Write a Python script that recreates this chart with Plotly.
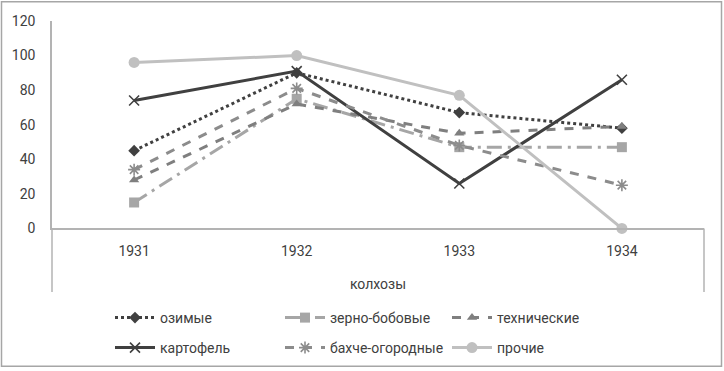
import plotly.graph_objects as go

years = ["1931", "1932", "1933", "1934"]
ozimye = [45, 90, 67, 58]
zerno = [15, 75, 47, 47]
tekhn = [28, 72, 55, 59]
kartofel = [74, 91, 26, 86]
bakhche = [34, 81, 48, 25]
prochie = [96, 100, 77, 0]
y_ticks = [0, 20, 40, 60, 80, 100, 120]

W, H = 724, 371
L, R, T, B = 52, 704, 21, 230
pw, ph = R - L, B - T


def px(x):
    return (x - L) / pw


def py(y):
    return (B - y) / ph


def cx(x):
    return x / W


def cy(y):
    return 1 - y / H


FONT = "Roboto"
TXT = "#404040"
fig = go.Figure()

# name, values, colour, dash, symbol, size, legend id, legend text position (px)
series = [
    ("озимые", ozimye, "#404040", "dot", "diamond", 9, "legend", (160, 318)),
    ("зерно-бобовые", zerno, "#a6a6a6", "longdashdot", "square", 10, "legend2", (330, 318)),
    ("технические", tekhn, "#7f7f7f", "dash", "triangle-up", 9, "legend3", (497, 318)),
    ("картофель", kartofel, "#404040", "solid", "x-thin", 10, "legend4", (160, 348)),
    ("бахче-огородные", bakhche, "#8c8c8c", "dash", "asterisk", 10, "legend5", (330, 348)),
    ("прочие", prochie, "#c0c0c0", "solid", "circle", 11, "legend6", (497, 348)),
]

legends = {}
for name, vals, col, dash, sym, size, leg, (tx, ty) in series:
    marker = dict(symbol=sym, size=size, color=col)
    if sym in ("x-thin", "asterisk"):
        marker["line"] = dict(color=col, width=1.6)
    fig.add_trace(go.Scatter(
        x=list(range(len(years))), y=vals, name=name, mode="lines+markers",
        line=dict(color=col, width=3, dash=dash), marker=marker,
        cliponaxis=False, legend=leg,
    ))
    legends[leg] = dict(
        orientation="h", xref="container", yref="container",
        x=cx(tx - 50), y=cy(ty), xanchor="left", yanchor="middle",
        font=dict(family=FONT, size=14, color=TXT),
        bgcolor="rgba(0,0,0,0)", itemwidth=40,
    )

fig.update_layout(
    width=W, height=H,
    margin=dict(l=L, r=W - R, t=T, b=H - B),
    paper_bgcolor="white", plot_bgcolor="white",
    font=dict(family=FONT, size=14, color=TXT),
    xaxis=dict(
        range=[-0.505, 3.505], tickvals=list(range(len(years))), ticktext=years,
        showgrid=False, zeroline=False, showline=True, linecolor="#b3b3b3", linewidth=2,
        ticks="", ticklabelstandoff=9,
        title=dict(text="колхозы", standoff=21, font=dict(size=14, color=TXT)),
        tickfont=dict(size=14, color=TXT),
    ),
    yaxis=dict(
        range=[0, 120], tickvals=y_ticks, showgrid=False, zeroline=False,
        showline=True, linecolor="#b3b3b3", linewidth=1.5,
        ticks="outside", ticklen=12, tickcolor="rgba(0,0,0,0)",
        tickfont=dict(size=14, color=TXT),
    ),
    showlegend=True,
    **legends,
)

# frame lines of the chart area below the axis
fig.add_shape(type="line", xref="paper", yref="paper", x0=0, x1=0, y0=py(230), y1=py(294),
              line=dict(color="#b3b3b3", width=1.5))
fig.add_shape(type="line", xref="paper", yref="paper", x0=1, x1=1, y0=py(230), y1=py(294),
              line=dict(color="#b3b3b3", width=1.5))
# outer border
fig.add_shape(type="rect", xref="paper", yref="paper", x0=px(1.5), x1=px(721.5), y0=py(369), y1=py(1.5),
              line=dict(color="#a6a6a6", width=1.5), layer="below")

fig.write_html("out.html", config={"displayModeBar": False},
               post_script="document.body.style.margin='0';")
